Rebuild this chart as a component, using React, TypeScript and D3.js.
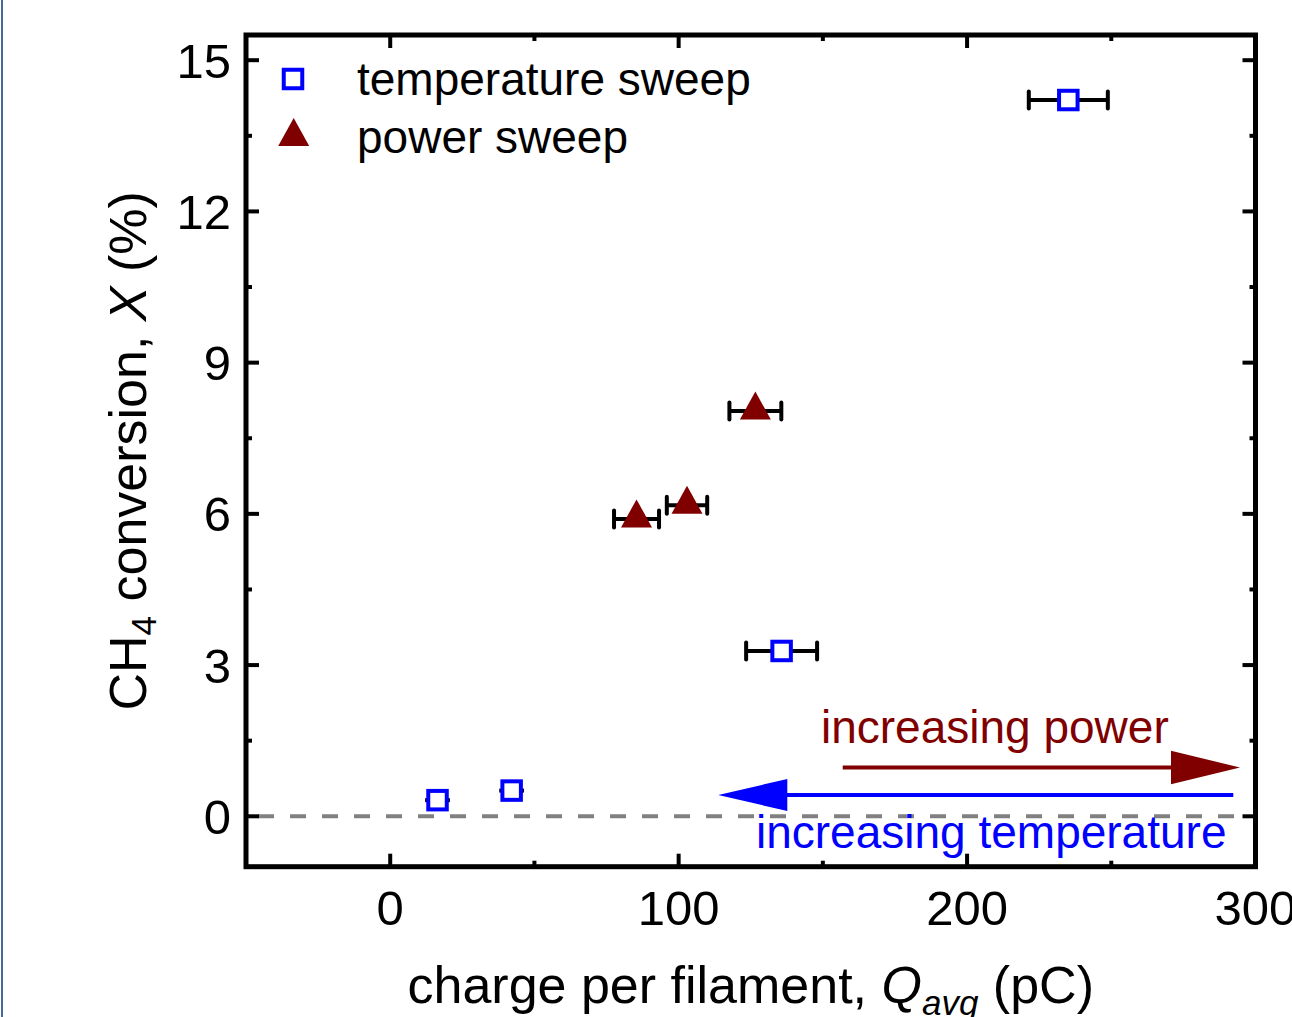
import React from "react";
import * as d3 from "d3";

// ---- data ----
const tempX = [16.4, 42.1, 135.7, 235.1];
const tempY = [0.32, 0.51, 3.28, 14.21];
const tempXErr = [4.3, 4.3, 12.3, 13.7];

const powerX = [85.4, 102.9, 126.6];
const powerY = [5.9, 6.17, 8.04];
const powerXErr = [7.8, 7.0, 9.0];

const xMajorTicks = [0, 100, 200, 300];
const xMinorTicks = [50, 150, 250];
const yMajorTicks = [0, 3, 6, 9, 12, 15];
const yMinorTicks = [1.5, 4.5, 7.5, 10.5, 13.5];

const legendLabels = ["temperature sweep", "power sweep"];

const W = 1292;
const H = 1017;
const FONT = "'Liberation Sans', Arial, Helvetica, sans-serif";
const BLUE = "#0000ff";
const RED = "#800000";

export default function App() {
  const x = d3.scaleLinear().domain([-50, 300]).range([246, 1255.5]);
  const y = d3.scaleLinear().domain([-1, 15.5]).range([866.7, 35]);
  const [x0, x1] = x.range();
  const [y0, y1] = y.range();

  const tri = (cx: number, cy: number) => {
    const w = 31, top = 19.5, bot = 8.5;
    return `M${cx},${cy - top} L${cx + w / 2},${cy + bot} L${cx - w / 2},${cy + bot} Z`;
  };

  const errBar = (cx: number, cy: number, err: number, key: string) => {
    const l = x(cx - err), r = x(cx + err);
    const capped = r - l > 30;
    return (
      <g key={key} stroke="#000" strokeWidth={4} strokeLinecap="round">
        <line x1={l} x2={r} y1={y(cy)} y2={y(cy)} strokeLinecap="butt" />
        {capped && <line x1={l} x2={l} y1={y(cy) - 8.5} y2={y(cy) + 8.5} />}
        {capped && <line x1={r} x2={r} y1={y(cy) - 8.5} y2={y(cy) + 8.5} />}
      </g>
    );
  };

  const sq = 18.5;

  return (
    <svg
      width={W}
      height={H}
      style={{ position: "absolute", left: 0, top: 0, background: "#fff" }}
      fontFamily={FONT}
    >
      <rect x={0} y={0} width={W} height={H} fill="#fff" />
      {/* left page border */}
      <rect x={1} y={0} width={2} height={H} fill="#4a67a3" />

      {/* zero dashed line */}
      <line
        x1={x0 + 12}
        x2={x1 - 12}
        y1={y(0)}
        y2={y(0)}
        stroke="#808080"
        strokeWidth={4}
        strokeDasharray="16 16"
      />

      {/* ticks */}
      <g stroke="#000" strokeWidth={4}>
        {yMajorTicks.map((t) => (
          <g key={"ym" + t}>
            <line x1={x0} x2={x0 + 13} y1={y(t)} y2={y(t)} />
            <line x1={x1} x2={x1 - 13} y1={y(t)} y2={y(t)} />
          </g>
        ))}
        {yMinorTicks.map((t) => (
          <g key={"yn" + t}>
            <line x1={x0} x2={x0 + 6} y1={y(t)} y2={y(t)} />
            <line x1={x1} x2={x1 - 6} y1={y(t)} y2={y(t)} />
          </g>
        ))}
        {xMajorTicks.map((t) => (
          <g key={"xm" + t}>
            <line x1={x(t)} x2={x(t)} y1={y0} y2={y0 - 13} />
            <line x1={x(t)} x2={x(t)} y1={y1} y2={y1 + 13} />
          </g>
        ))}
        {xMinorTicks.map((t) => (
          <g key={"xn" + t}>
            <line x1={x(t)} x2={x(t)} y1={y0} y2={y0 - 6} />
            <line x1={x(t)} x2={x(t)} y1={y1} y2={y1 + 6} />
          </g>
        ))}
      </g>

      {/* frame */}
      <rect
        x={x0}
        y={y1}
        width={x1 - x0}
        height={y0 - y1}
        fill="none"
        stroke="#000"
        strokeWidth={5}
      />

      {/* tick labels */}
      <g fontSize={49} fill="#000">
        {yMajorTicks.map((t) => (
          <text key={"yl" + t} x={231} y={y(t) + 17.5} textAnchor="end">
            {t}
          </text>
        ))}
        {xMajorTicks.map((t) => (
          <text key={"xl" + t} x={x(t)} y={925} textAnchor="middle">
            {t}
          </text>
        ))}
      </g>

      {/* axis titles */}
      <text x={(x0 + x1) / 2} y={1003} textAnchor="middle" fontSize={52}>
        charge per filament,{" "}
        <tspan fontStyle="italic">Q</tspan>
        <tspan fontStyle="italic" fontSize={35} dy={12}>
          avg
        </tspan>
        <tspan dy={-12}> (pC)</tspan>
      </text>
      <text
        transform={`translate(146, ${(y0 + y1) / 2}) rotate(-90)`}
        textAnchor="middle"
        fontSize={52}
      >
        CH
        <tspan fontSize={35} dy={10}>
          4
        </tspan>
        <tspan dy={-10}> conversion, </tspan>
        <tspan fontStyle="italic">X</tspan>
        <tspan> (%)</tspan>
      </text>

      {/* error bars */}
      {tempX.map((v, i) => errBar(v, tempY[i], tempXErr[i], "te" + i))}
      {powerX.map((v, i) => errBar(v, powerY[i], powerXErr[i], "pe" + i))}

      {/* markers */}
      {tempX.map((v, i) => (
        <rect
          key={"ts" + i}
          x={x(v) - sq / 2}
          y={y(tempY[i]) - sq / 2}
          width={sq}
          height={sq}
          fill="#fff"
          stroke={BLUE}
          strokeWidth={4}
        />
      ))}
      {powerX.map((v, i) => (
        <path key={"pt" + i} d={tri(x(v), y(powerY[i]))} fill={RED} />
      ))}

      {/* legend */}
      <rect
        x={293 - sq / 2}
        y={79 - sq / 2}
        width={sq}
        height={sq}
        fill="#fff"
        stroke={BLUE}
        strokeWidth={4}
      />
      <path d={tri(293.7, 137.5)} fill={RED} />
      <text x={357} y={95} fontSize={46}>
        {legendLabels[0]}
      </text>
      <text x={357} y={153} fontSize={46}>
        {legendLabels[1]}
      </text>

      {/* annotations */}
      <text x={821} y={743} fontSize={46} fill={RED}>
        increasing power
      </text>
      <line x1={842.7} x2={1172} y1={767.5} y2={767.5} stroke={RED} strokeWidth={4} />
      <path d={`M1171,750.8 L1240,767.5 L1171,784.2 Z`} fill={RED} />

      <line x1={786} x2={1233.3} y1={795} y2={795} stroke={BLUE} strokeWidth={4} />
      <path d={`M787.3,779 L718.3,795 L787.3,811 Z`} fill={BLUE} />
      <text x={756} y={848} fontSize={46} fill={BLUE}>
        increasing temperature
      </text>
    </svg>
  );
}
